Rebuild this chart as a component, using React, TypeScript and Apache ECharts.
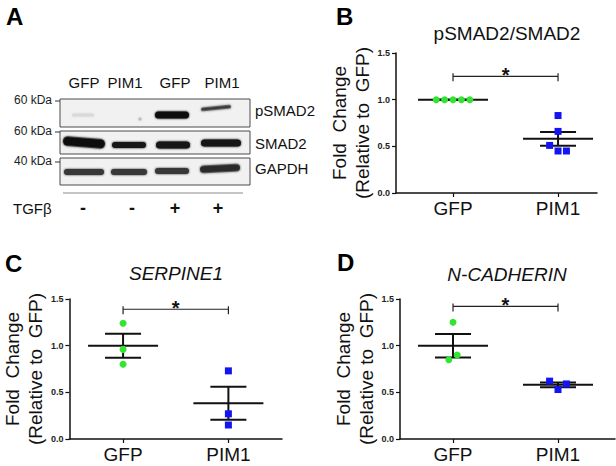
import React, { useEffect, useRef } from "react";
import * as echarts from "echarts";

const categories = ["GFP", "PIM1"];

// Panel B: pSMAD2/SMAD2
const bGfp = [1.0, 1.0, 1.0, 1.0, 1.0];
const bPim1 = [0.83, 0.66, 0.51, 0.45, 0.45];
// Panel C: SERPINE1
const cGfp = [1.24, 0.96, 0.8];
const cPim1 = [0.73, 0.27, 0.15];
// Panel D: N-CADHERIN
const dGfp = [1.25, 0.9, 0.85];
const dPim1 = [0.62, 0.59, 0.53];

// horizontal scatter offsets (category units)
const bGfpJitter = [-0.16, -0.08, 0, 0.08, 0.16];
const bPim1Jitter = [0, 0, -0.08, 0, 0.08];
const cGfpJitter = [0, 0, 0];
const cPim1Jitter = [0, 0, 0];
const dGfpJitter = [0, 0.04, -0.04];
const dPim1Jitter = [-0.08, 0.08, 0];

const sigLevels = [1.25, 1.39, 1.42];
const titles = ["pSMAD2/SMAD2", "SERPINE1", "N-CADHERIN"];
const yTickMax = 1.5;

// Western blot texts
const laneLabels = ["GFP", "PIM1", "GFP", "PIM1"];
const tgfSigns = ["-", "-", "+", "+"];
const blotRows = ["pSMAD2", "SMAD2", "GAPDH"];
const markers = ["60 kDa", "60 kDa", "40 kDa"];

const FONT = '"Liberation Sans", Arial, Helvetica, sans-serif';
const GREEN = "#33e433";
const BLUE = "#1414f0";
const INK = "#111";

function meanSem(v: number[]) {
  const n = v.length;
  const m = v.reduce((a, b) => a + b, 0) / n;
  const sd = Math.sqrt(v.reduce((a, b) => a + (b - m) * (b - m), 0) / (n - 1));
  const se = sd / Math.sqrt(n);
  return [m, m - se, m + se];
}

export default function App() {
  const ref = useRef<HTMLDivElement>(null);
  useEffect(() => {
    if (!ref.current) return;
    const chart = echarts.init(ref.current, null, { renderer: "svg" });

    const panels = [
      { gfp: bGfp, pim: bPim1, gj: bGfpJitter, pj: bPim1Jitter, grid: { left: 396, top: 53, width: 201, height: 140 }, min: 0.457, max: 2.371 },
      { gfp: cGfp, pim: cPim1, gj: cGfpJitter, pj: cPim1Jitter, grid: { left: 68, top: 299, width: 214, height: 140 }, min: 0.4906, max: 2.509 },
      { gfp: dGfp, pim: dPim1, gj: dGfpJitter, pj: dPim1Jitter, grid: { left: 400, top: 299, width: 215, height: 140 }, min: 0.495, max: 2.543 },
    ];

    const grids: any[] = [];
    const xAxes: any[] = [];
    const yAxes: any[] = [];
    const series: any[] = [];

    panels.forEach((p, i) => {
      grids.push({ ...p.grid, containLabel: false });
      xAxes.push({
        type: "value",
        gridIndex: i,
        min: p.min,
        max: p.max,
        splitLine: { show: false },
        axisLine: { show: true, onZero: false, lineStyle: { color: INK, width: 1.5 } },
        axisTick: { show: true, customValues: [1, 2], length: 4, lineStyle: { color: INK, width: 1.2 } },
        axisLabel: {
          customValues: [1, 2],
          formatter: (v: number) => categories[Math.round(v) - 1] ?? "",
          fontFamily: FONT,
          fontSize: 19,
          color: INK,
          margin: 6,
        },
      });
      yAxes.push({
        type: "value",
        gridIndex: i,
        min: 0,
        max: yTickMax,
        interval: 0.5,
        name: "Fold  Change\n(Relative to  GFP)",
        nameLocation: "middle",
        nameGap: 19,
        nameTextStyle: { fontFamily: FONT, fontSize: 19, color: INK, lineHeight: 23 },
        splitLine: { show: false },
        axisLine: { show: true, lineStyle: { color: INK, width: 1.5 } },
        axisTick: { show: true, length: 4, lineStyle: { color: INK, width: 1.2 } },
        axisLabel: {
          formatter: (v: number) => v.toFixed(1),
          fontFamily: FONT,
          fontSize: 9,
          fontWeight: "bold",
          color: "#222",
          margin: 6,
        },
      });

      const stats = [
        [1, ...meanSem(p.gfp)],
        [2, ...meanSem(p.pim)],
      ];
      series.push({
        type: "custom",
        xAxisIndex: i,
        yAxisIndex: i,
        z: 2,
        data: stats,
        renderItem: (_params: any, api: any) => {
          const x = api.value(0);
          const c = api.coord([x, api.value(1)]);
          const lo = api.coord([x, api.value(2)]);
          const hi = api.coord([x, api.value(3)]);
          const st = { stroke: INK, lineWidth: 2 };
          return {
            type: "group",
            children: [
              { type: "line", shape: { x1: c[0] - 35, y1: c[1], x2: c[0] + 35, y2: c[1] }, style: st },
              { type: "line", shape: { x1: c[0], y1: lo[1], x2: c[0], y2: hi[1] }, style: st },
              { type: "line", shape: { x1: c[0] - 18, y1: lo[1], x2: c[0] + 18, y2: lo[1] }, style: st },
              { type: "line", shape: { x1: c[0] - 18, y1: hi[1], x2: c[0] + 18, y2: hi[1] }, style: st },
            ],
          };
        },
      });
      series.push({
        type: "custom",
        xAxisIndex: i,
        yAxisIndex: i,
        z: 2,
        data: [[1, 2, sigLevels[i]]],
        renderItem: (_params: any, api: any) => {
          const a = api.coord([api.value(0), api.value(2)]);
          const b = api.coord([api.value(1), api.value(2)]);
          const st = { stroke: "#222", lineWidth: 1.2 };
          return {
            type: "group",
            children: [
              { type: "line", shape: { x1: a[0], y1: a[1], x2: b[0], y2: b[1] }, style: st },
              { type: "line", shape: { x1: a[0], y1: a[1] - 3, x2: a[0], y2: a[1] + 5 }, style: st },
              { type: "line", shape: { x1: b[0], y1: b[1] - 3, x2: b[0], y2: b[1] + 5 }, style: st },
              {
                type: "text",
                style: {
                  text: "*",
                  x: (a[0] + b[0]) / 2,
                  y: a[1] - 1,
                  textAlign: "center",
                  textVerticalAlign: "middle",
                  font: `bold 20px ${FONT}`,
                  fill: INK,
                },
              },
            ],
          };
        },
      });
      series.push({
        type: "scatter",
        name: categories[0],
        xAxisIndex: i,
        yAxisIndex: i,
        z: 5,
        symbol: "circle",
        symbolSize: 7,
        itemStyle: { color: GREEN, opacity: 1 },
        data: p.gfp.map((v, k) => [1 + p.gj[k], v]),
      });
      series.push({
        type: "scatter",
        name: categories[1],
        xAxisIndex: i,
        yAxisIndex: i,
        z: 5,
        symbol: "rect",
        symbolSize: 7,
        itemStyle: { color: BLUE, opacity: 1 },
        data: p.pim.map((v, k) => [2 + p.pj[k], v]),
      });
    });

    // ---- Graphic: panel letters, titles, western blot ----
    const g: any[] = [];
    const letter = (t: string, x: number, y: number) =>
      g.push({ type: "text", x, y, style: { text: t, font: `bold 24px ${FONT}`, fill: "#000", textAlign: "left", textVerticalAlign: "middle" } });
    letter("A", 6, 16);
    letter("B", 336, 16);
    letter("C", 5, 263);
    letter("D", 337, 262);
    const title = (t: string, x: number, y: number, italic: boolean) =>
      g.push({ type: "text", x, y, style: { text: t, font: `${italic ? "italic " : ""}19px ${FONT}`, fill: INK, textAlign: "center", textVerticalAlign: "middle" } });
    title(titles[0], 507, 33, false);
    title(titles[1], 176, 273, true);
    title(titles[2], 507, 274, true);

    const laneX = [84, 125, 175, 222];
    laneLabels.forEach((t, k) =>
      g.push({ type: "text", x: laneX[k], y: 82, style: { text: t, font: `15px ${FONT}`, fill: INK, textAlign: "center", textVerticalAlign: "middle" } })
    );
    const boxes = [
      [99, 127],
      [131, 154],
      [158, 185],
    ];
    const rowLabelY = [110, 143, 168];
    const markerY = [100, 131, 161];
    boxes.forEach(([y0, y1], k) => {
      g.push({ type: "rect", shape: { x: 60, y: y0, width: 190, height: y1 - y0 }, style: { fill: "#f1f1f1", stroke: "#4a4a4a", lineWidth: 1 } });
      g.push({ type: "text", x: 255, y: rowLabelY[k], style: { text: blotRows[k], font: `15px ${FONT}`, fill: INK, textAlign: "left", textVerticalAlign: "middle" } });
      g.push({ type: "text", x: 52, y: markerY[k], style: { text: markers[k], font: `12px ${FONT}`, fill: "#222", textAlign: "right", textVerticalAlign: "middle" } });
      g.push({ type: "line", shape: { x1: 55, y1: markerY[k] + 1, x2: 60, y2: markerY[k] + 1 }, style: { stroke: "#333", lineWidth: 1 } });
    });
    // bands: [cx, cy, w, h, color, rotation]
    const bands: [number, number, number, number, string, number][] = [
      [83, 115, 22, 3, "#d9d9d9", 0],
      [140, 119, 3, 3, "#bbb", 0],
      [172, 115, 34, 7, "#111", 0],
      [216, 108, 30, 3, "#3a3a3a", 0.1],
      [84, 142.5, 42, 9, "#0a0a0a", -0.08],
      [129, 145, 34, 6, "#141414", 0],
      [173, 145, 34, 7, "#141414", 0],
      [221, 143, 40, 7, "#141414", 0],
      [84, 172, 40, 6, "#383838", 0],
      [129, 172, 36, 6, "#383838", 0],
      [172, 171, 34, 6, "#383838", 0],
      [220, 168.5, 40, 7, "#2c2c2c", 0.05],
    ];
    bands.forEach(([cx, cy, w, h, col, rot]) =>
      g.push({
        type: "rect",
        x: cx,
        y: cy,
        rotation: rot,
        shape: { x: -w / 2, y: -h / 2, width: w, height: h, r: h / 2 },
        style: { fill: col, shadowBlur: 2, shadowColor: col },
      })
    );
    g.push({ type: "line", shape: { x1: 63, y1: 193, x2: 243, y2: 193 }, style: { stroke: "#888", lineWidth: 1 } });
    g.push({ type: "text", x: 13, y: 208, style: { text: "TGFβ", font: `15px ${FONT}`, fill: INK, textAlign: "left", textVerticalAlign: "middle" } });
    const signX = [83, 132, 175, 218];
    tgfSigns.forEach((t, k) =>
      g.push({ type: "text", x: signX[k], y: 208, style: { text: t, font: `bold 18px ${FONT}`, fill: INK, textAlign: "center", textVerticalAlign: "middle" } })
    );

    chart.setOption({
      animation: false,
      backgroundColor: "#fff",
      textStyle: { fontFamily: FONT },
      grid: grids,
      xAxis: xAxes,
      yAxis: yAxes,
      series,
      graphic: g,
    });
    return () => chart.dispose();
  }, []);
  return <div ref={ref} style={{ position: "fixed", left: 0, top: 0, width: 616, height: 466, background: "#fff" }} />;
}
